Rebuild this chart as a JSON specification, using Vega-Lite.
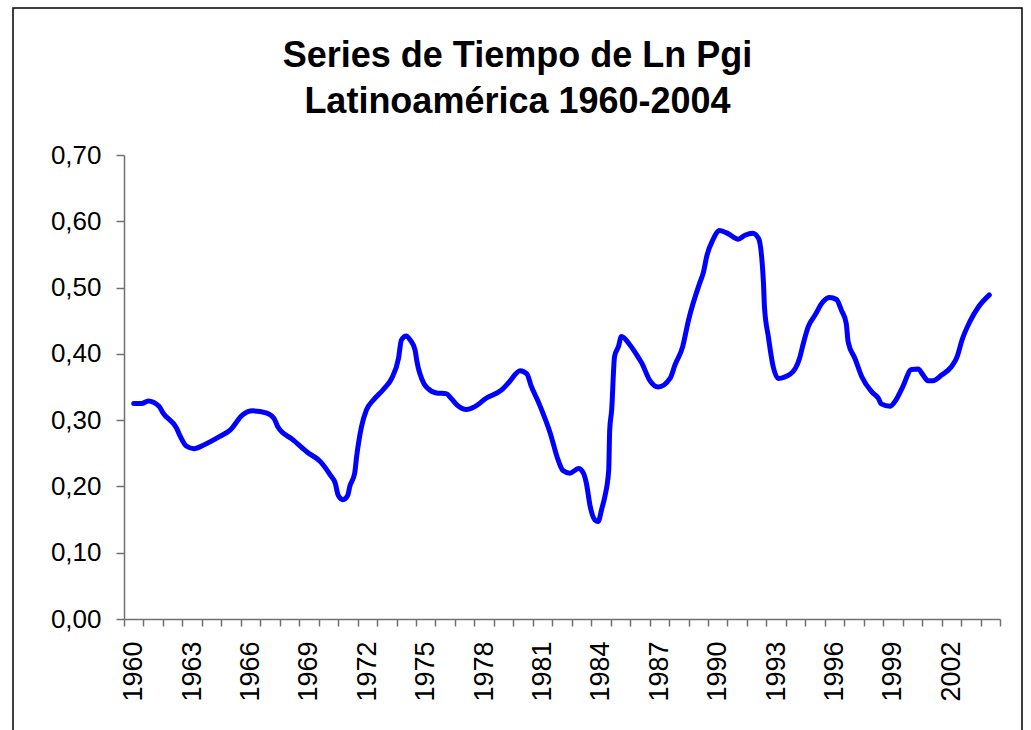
{
  "$schema": "https://vega.github.io/schema/vega-lite/v6.json",
  "autosize": {"type": "none"},
  "padding": {"left": 13, "top": 8, "right": 9, "bottom": -4},
  "width": 1009,
  "height": 726,
  "background": "white",
  "config": {
    "view": {"stroke": "black", "strokeWidth": 1.5},
    "font": "Liberation Sans"
  },
  "title": {
    "text": ["Series de Tiempo de Ln Pgi", "Latinoamérica 1960-2004"],
    "fontSize": 36,
    "fontWeight": "bold",
    "font": "Liberation Sans",
    "color": "black",
    "lineHeight": 46,
    "anchor": "middle",
    "frame": "group",
    "baseline": "top",
    "offset": -113
  },
  "data": {
    "values": [
      {"year": 1960.0, "value": 0.325}, {"year": 1960.4, "value": 0.325}, {"year": 1960.75, "value": 0.329},
      {"year": 1961.3, "value": 0.321}, {"year": 1961.5, "value": 0.311}, {"year": 1962.2, "value": 0.288},
      {"year": 1962.4, "value": 0.275}, {"year": 1962.7, "value": 0.261}, {"year": 1963.1, "value": 0.257},
      {"year": 1963.6, "value": 0.2625}, {"year": 1964.4, "value": 0.275}, {"year": 1964.95, "value": 0.285},
      {"year": 1965.6, "value": 0.308}, {"year": 1966.1, "value": 0.314}, {"year": 1966.8, "value": 0.311},
      {"year": 1967.2, "value": 0.303}, {"year": 1967.4, "value": 0.29}, {"year": 1968.2, "value": 0.27},
      {"year": 1968.9, "value": 0.252}, {"year": 1969.6, "value": 0.237}, {"year": 1970.1, "value": 0.217},
      {"year": 1970.35, "value": 0.205}, {"year": 1970.5, "value": 0.187}, {"year": 1970.75, "value": 0.18},
      {"year": 1971.0, "value": 0.187}, {"year": 1971.1, "value": 0.2}, {"year": 1971.35, "value": 0.22},
      {"year": 1971.45, "value": 0.245}, {"year": 1971.7, "value": 0.29}, {"year": 1971.95, "value": 0.315},
      {"year": 1972.3, "value": 0.33}, {"year": 1972.8, "value": 0.3455}, {"year": 1973.25, "value": 0.363},
      {"year": 1973.6, "value": 0.393}, {"year": 1973.75, "value": 0.421}, {"year": 1974.0, "value": 0.427},
      {"year": 1974.2, "value": 0.421}, {"year": 1974.45, "value": 0.406}, {"year": 1974.55, "value": 0.388},
      {"year": 1974.9, "value": 0.3555}, {"year": 1975.1, "value": 0.348}, {"year": 1975.55, "value": 0.341},
      {"year": 1976.05, "value": 0.34}, {"year": 1976.3, "value": 0.333}, {"year": 1976.6, "value": 0.323},
      {"year": 1977.1, "value": 0.316}, {"year": 1977.5, "value": 0.32}, {"year": 1978.1, "value": 0.333},
      {"year": 1978.9, "value": 0.3455}, {"year": 1979.3, "value": 0.358}, {"year": 1979.85, "value": 0.3745},
      {"year": 1980.2, "value": 0.3695}, {"year": 1980.4, "value": 0.353}, {"year": 1980.85, "value": 0.323},
      {"year": 1981.4, "value": 0.28}, {"year": 1981.8, "value": 0.24}, {"year": 1982.05, "value": 0.224},
      {"year": 1982.4, "value": 0.22}, {"year": 1982.85, "value": 0.227}, {"year": 1983.1, "value": 0.22},
      {"year": 1983.25, "value": 0.205}, {"year": 1983.45, "value": 0.1695}, {"year": 1983.7, "value": 0.149},
      {"year": 1983.85, "value": 0.147}, {"year": 1984.05, "value": 0.167}, {"year": 1984.2, "value": 0.1845},
      {"year": 1984.4, "value": 0.225}, {"year": 1984.45, "value": 0.285}, {"year": 1984.55, "value": 0.315},
      {"year": 1984.7, "value": 0.396}, {"year": 1984.9, "value": 0.411}, {"year": 1985.05, "value": 0.426},
      {"year": 1985.5, "value": 0.413}, {"year": 1985.85, "value": 0.398}, {"year": 1986.1, "value": 0.386},
      {"year": 1986.5, "value": 0.3605}, {"year": 1986.95, "value": 0.35}, {"year": 1987.55, "value": 0.363},
      {"year": 1987.8, "value": 0.383}, {"year": 1988.2, "value": 0.411}, {"year": 1988.5, "value": 0.451},
      {"year": 1989.1, "value": 0.509}, {"year": 1989.25, "value": 0.5215}, {"year": 1989.45, "value": 0.549},
      {"year": 1989.75, "value": 0.572}, {"year": 1990.1, "value": 0.586}, {"year": 1990.55, "value": 0.581},
      {"year": 1991.05, "value": 0.573}, {"year": 1991.4, "value": 0.579}, {"year": 1991.8, "value": 0.582},
      {"year": 1992.1, "value": 0.574}, {"year": 1992.35, "value": 0.5065}, {"year": 1992.4, "value": 0.471},
      {"year": 1992.6, "value": 0.426}, {"year": 1992.85, "value": 0.3805}, {"year": 1993.1, "value": 0.363},
      {"year": 1993.75, "value": 0.37}, {"year": 1994.2, "value": 0.393}, {"year": 1994.4, "value": 0.416},
      {"year": 1994.65, "value": 0.441}, {"year": 1995.0, "value": 0.4585}, {"year": 1995.4, "value": 0.4785},
      {"year": 1995.75, "value": 0.485}, {"year": 1996.1, "value": 0.482}, {"year": 1996.35, "value": 0.466},
      {"year": 1996.6, "value": 0.446}, {"year": 1996.7, "value": 0.418}, {"year": 1997.05, "value": 0.393},
      {"year": 1997.4, "value": 0.3655}, {"year": 1997.9, "value": 0.343}, {"year": 1998.25, "value": 0.333},
      {"year": 1998.4, "value": 0.3245}, {"year": 1998.85, "value": 0.321}, {"year": 1999.1, "value": 0.328},
      {"year": 1999.5, "value": 0.35}, {"year": 1999.95, "value": 0.3765}, {"year": 2000.3, "value": 0.377},
      {"year": 2000.55, "value": 0.368}, {"year": 2000.8, "value": 0.3595}, {"year": 2001.05, "value": 0.3595},
      {"year": 2001.5, "value": 0.368}, {"year": 2002.0, "value": 0.3805}, {"year": 2002.3, "value": 0.396},
      {"year": 2002.55, "value": 0.421}, {"year": 2002.95, "value": 0.4485}, {"year": 2003.4, "value": 0.471},
      {"year": 2003.95, "value": 0.489}
    ]
  },
  "mark": {"type": "line", "color": "#0000FF", "strokeWidth": 5, "interpolate": "monotone", "strokeCap": "round", "strokeJoin": "round"},
  "encoding": {
    "x": {
      "field": "year",
      "type": "quantitative",
      "scale": {"domain": [1959.5, 2004.5], "range": [111, 987], "nice": false, "zero": false},
      "axis": {
        "title": null,
        "orient": "bottom",
        "offset": -115,
        "grid": false,
        "values": [1959.5, 1960.5, 1961.5, 1962.5, 1963.5, 1964.5, 1965.5, 1966.5, 1967.5, 1968.5, 1969.5, 1970.5, 1971.5, 1972.5, 1973.5, 1974.5, 1975.5, 1976.5, 1977.5, 1978.5, 1979.5, 1980.5, 1981.5, 1982.5, 1983.5, 1984.5, 1985.5, 1986.5, 1987.5, 1988.5, 1989.5, 1990.5, 1991.5, 1992.5, 1993.5, 1994.5, 1995.5, 1996.5, 1997.5, 1998.5, 1999.5, 2000.5, 2001.5, 2002.5, 2003.5, 2004.5],
        "labelExpr": "((datum.value + 0.5 - 1960) % 3 == 0 && datum.value < 2003) ? toString(datum.value + 0.5) : ''",
        "labelOffset": 9.73,
        "labelAngle": 270,
        "labelAlign": "right",
        "labelBaseline": "middle",
        "labelFontSize": 27,
        "labelColor": "black",
        "labelPadding": 15,
        "labelOverlap": false,
        "labelFlush": false,
        "labelBound": false,
        "tickSize": 7,
        "tickColor": "#707070",
        "tickWidth": 1.5,
        "domainColor": "#707070",
        "domainWidth": 1.5
      }
    },
    "y": {
      "field": "value",
      "type": "quantitative",
      "scale": {"domain": [0, 0.7], "range": [611, 147], "nice": false},
      "axis": {
        "title": null,
        "orient": "left",
        "offset": -111,
        "grid": false,
        "values": [0, 0.1, 0.2, 0.3, 0.4, 0.5, 0.6, 0.7],
        "labelExpr": "replace(format(datum.value, '.2f'), '.', ',')",
        "labelFontSize": 26,
        "labelColor": "black",
        "labelPadding": 15,
        "labelOverlap": false,
        "labelFlush": false,
        "labelBound": false,
        "tickSize": 8,
        "tickColor": "#707070",
        "tickWidth": 1.5,
        "domainColor": "#707070",
        "domainWidth": 1.5
      }
    }
  }
}
